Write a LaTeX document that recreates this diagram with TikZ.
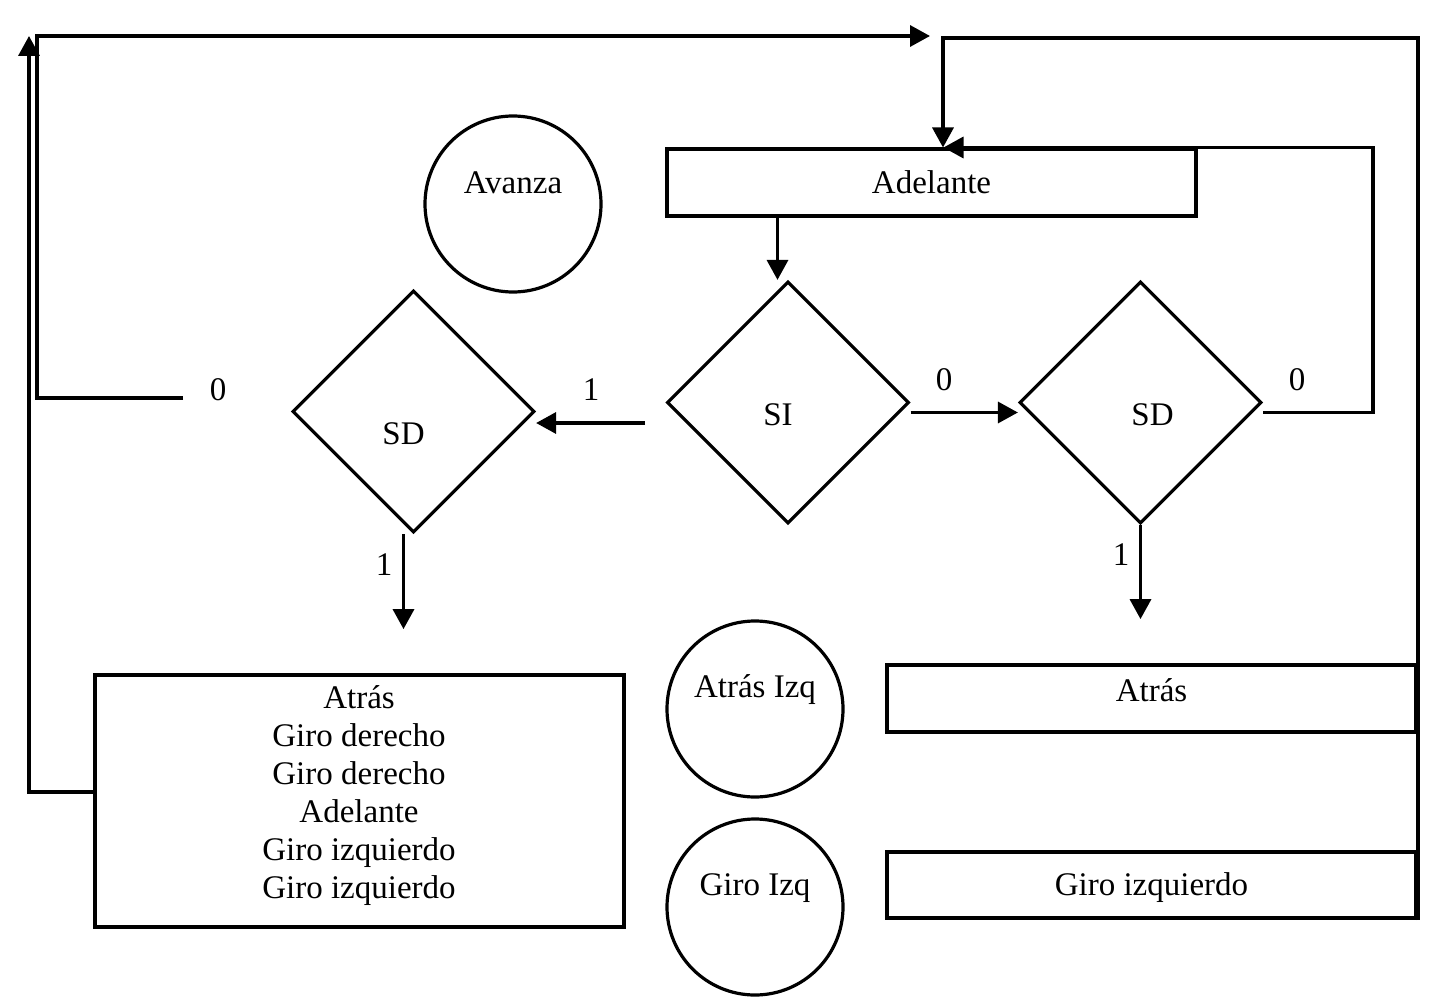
\documentclass[tikz,border=0pt]{standalone}
\usepackage{fontspec}
\setmainfont{Liberation Serif}
\usetikzlibrary{shapes.geometric,arrows.meta}
\tikzset{
  caja/.style={draw,line width=2pt,inner sep=0pt,minimum width=264.5pt,minimum height=33pt},
  rombo/.style={draw,diamond,line width=1.6pt,inner sep=0pt,minimum size=121pt},
  estado/.style={draw,circle,line width=1.6pt,inner sep=0pt,minimum size=88pt},
  flecha/.style={line width=1.7pt,-{Triangle[length=10pt,width=10.5pt]}},
  etq/.style={inner sep=0pt}
}
\begin{document}
\begin{tikzpicture}[x=0.5pt,y=-0.5pt,font=\fontsize{16.5}{19}\selectfont]
\useasboundingbox (0,0) rectangle (1436,1006);
% estados
\node[estado,label={[yshift=10.5pt]center:Avanza}] (avanza) at (513,204) {};
\node[estado,label={[yshift=9.5pt]center:Atrás Izq}] (atrasizq) at (755,709) {};
\node[estado,label={[yshift=9.5pt]center:Giro Izq}] (giroizq) at (755,907) {};
% cajas
\node[caja] (adel) at (931.5,182.5) {Adelante};
\node[caja,minimum height=126pt,label={[align=center,yshift=2.5pt]center:Atrás\\Giro derecho\\Giro derecho\\Adelante\\Giro izquierdo\\Giro izquierdo}] (lbox) at (359,801) {};
\node[caja,minimum height=33.5pt,label={[yshift=4pt]center:Atrás}] (atras) at (1151.5,698.5) {};
\node[caja,label={[yshift=-1.5pt]center:Giro izquierdo}] (gizq) at (1151.5,885) {};
% decisiones
\node[rombo,label={[xshift=-5pt,yshift=-11pt]center:SD}] (sdl) at (413.5,411.5) {};
\node[rombo,label={[xshift=-5pt,yshift=-6pt]center:SI}] (si) at (788,402.5) {};
\node[rombo,label={[xshift=6pt,yshift=-6pt]center:SD}] (sdr) at (1140.5,402.5) {};
% extremos libres
\coordinate (a1) at (645,423);
\coordinate (l0) at (183,398);
\coordinate (t1) at (930,36);
\coordinate (t0) at (29,36);
\coordinate (t2) at (943,38);
% conexiones
\draw[flecha] ([xshift=-77pt]adel.south) -- ([xshift=-77pt]adel.south |- si.north);
\draw[flecha] (a1) -- (a1 -| sdl.east);
\draw[flecha] ([yshift=-5pt]si.east) -- ([yshift=-5pt]sdr.west);
\draw[flecha] ([xshift=-5pt]sdl.south) -- ++(0,95);
\draw[flecha] (sdr.south) -- ++(0,94);
\draw[flecha] ([yshift=-5pt]sdr.east) -- ++(110,0) |- ([xshift=6pt]adel.north);
\draw[flecha] (gizq.south east) |- (t2) -- (t2 |- adel.north);
\draw[flecha] (l0) -- ++(-146,0) |- (t1);
\draw[flecha] ([yshift=4.5pt]lbox.west) -| (t0);
% etiquetas
\node[etq] (e1) at (591,390) {1};
\node[etq] (e2) at (944,380) {0};
\node[etq] (e3) at (1297,380) {0};
\node[etq] (e4) at (218,390) {0};
\node[etq] (e5) at (384,565) {1};
\node[etq] (e6) at (1121,555) {1};
\end{tikzpicture}
\end{document}
